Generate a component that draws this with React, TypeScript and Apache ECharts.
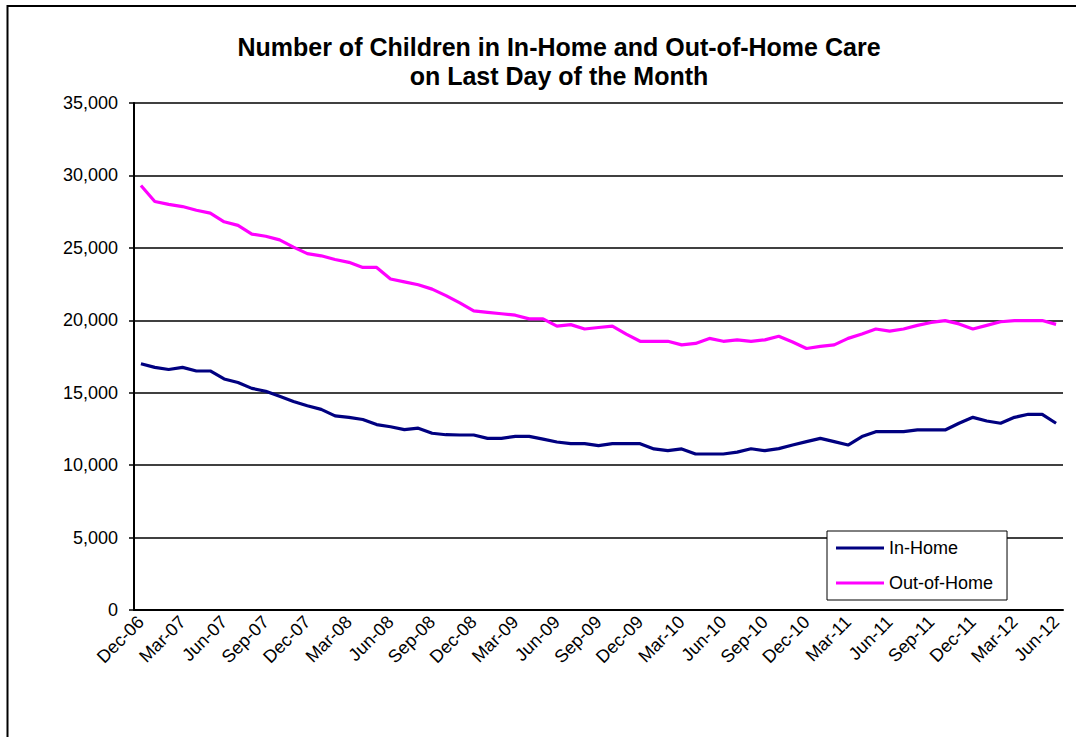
import React, { useEffect, useRef } from "react";
import * as echarts from "echarts";

const FONT = "'Liberation Sans', Arial, Helvetica, sans-serif";

const months: string[] = [
  "Dec-06",
  "Jan-07", "Feb-07", "Mar-07", "Apr-07", "May-07", "Jun-07", "Jul-07", "Aug-07", "Sep-07", "Oct-07", "Nov-07", "Dec-07",
  "Jan-08", "Feb-08", "Mar-08", "Apr-08", "May-08", "Jun-08", "Jul-08", "Aug-08", "Sep-08", "Oct-08", "Nov-08", "Dec-08",
  "Jan-09", "Feb-09", "Mar-09", "Apr-09", "May-09", "Jun-09", "Jul-09", "Aug-09", "Sep-09", "Oct-09", "Nov-09", "Dec-09",
  "Jan-10", "Feb-10", "Mar-10", "Apr-10", "May-10", "Jun-10", "Jul-10", "Aug-10", "Sep-10", "Oct-10", "Nov-10", "Dec-10",
  "Jan-11", "Feb-11", "Mar-11", "Apr-11", "May-11", "Jun-11", "Jul-11", "Aug-11", "Sep-11", "Oct-11", "Nov-11", "Dec-11",
  "Jan-12", "Feb-12", "Mar-12", "Apr-12", "May-12", "Jun-12",
];

const inHome: number[] = [
  17000,
  16750, 16600, 16750, 16500, 16500, 15950, 15700, 15300, 15100, 14750, 14400, 14100,
  13850, 13400, 13300, 13150, 12800, 12650, 12450, 12550, 12200, 12100, 12080, 12080,
  11850, 11850, 11990, 11990, 11800, 11600, 11480, 11480, 11350, 11480, 11480, 11480,
  11120, 11000, 11120, 10770, 10770, 10770, 10900, 11130, 11000, 11140, 11390, 11620,
  11850, 11620, 11390, 11970, 12310, 12310, 12310, 12430, 12430, 12430, 12890, 13300,
  13050, 12890, 13300, 13510, 13510, 12890,
];

const outOfHome: number[] = [
  29300,
  28200, 28000, 27850, 27600, 27400, 26800, 26550, 25950, 25800, 25550, 25050, 24600,
  24450, 24200, 24000, 23650, 23650, 22850, 22650, 22450, 22150, 21700, 21200, 20650,
  20550, 20450, 20350, 20100, 20100, 19600, 19700, 19400, 19500, 19600, 19050, 18550,
  18550, 18550, 18300, 18400, 18750, 18550, 18650, 18550, 18650, 18900, 18500, 18050,
  18200, 18300, 18750, 19050, 19400, 19250, 19400, 19650, 19850, 19980, 19750, 19400,
  19650, 19900, 19980, 19980, 19980, 19720,
];

const yMin = 0;
const yMax = 35000;
const yStep = 5000;

const titleText = "Number of Children in In-Home and Out-of-Home Care\non Last Day of the Month";

export default function App() {
  const ref = useRef<HTMLDivElement>(null);

  useEffect(() => {
    if (!ref.current) return;
    const chart = echarts.init(ref.current, null, { renderer: "svg" });
    chart.setOption({
      animation: false,
      backgroundColor: "#ffffff",
      textStyle: { fontFamily: FONT },
      title: {
        text: titleText,
        left: 559,
        top: 32,
        padding: 0,
        textAlign: "center",
        textStyle: {
          fontFamily: FONT,
          fontSize: 25,
          fontWeight: "bold",
          color: "#000",
          lineHeight: 29,
        },
      },
      graphic: [
        {
          type: "rect",
          silent: true,
          shape: { x: 7.5, y: 6, width: 1200, height: 900 },
          style: { fill: "none", stroke: "#000", lineWidth: 2 },
          z: 100,
        },
      ],
      legend: {
        orient: "vertical",
        left: 827,
        top: 531,
        padding: [7, 14, 7, 9],
        icon: "rect",
        itemWidth: 48,
        itemHeight: 3,
        itemGap: 15,
        borderColor: "#000",
        borderWidth: 1,
        backgroundColor: "#fff",
        borderRadius: 0,
        textStyle: { fontFamily: FONT, fontSize: 18, color: "#000", lineHeight: 20 },
        data: ["In-Home", "Out-of-Home"],
      },
      grid: { left: 134, right: 13, top: 103, bottom: 127 },
      xAxis: {
        type: "category",
        data: months,
        boundaryGap: true,
        axisLine: { lineStyle: { color: "#000", width: 2 } },
        axisTick: { interval: 2, length: 5, lineStyle: { color: "#000", width: 1.5 } },
        axisLabel: {
          interval: 2,
          rotate: 45,
          margin: 9,
          fontFamily: FONT,
          fontSize: 18,
          color: "#000",
        },
        splitLine: { show: false },
      },
      yAxis: {
        type: "value",
        min: yMin,
        max: yMax,
        interval: yStep,
        axisLine: { show: true, lineStyle: { color: "#000", width: 2 } },
        axisTick: { show: true, length: 5, lineStyle: { color: "#000", width: 1.5 } },
        axisLabel: {
          margin: 16,
          fontFamily: FONT,
          fontSize: 18,
          color: "#000",
          formatter: (v: number) => v.toLocaleString("en-US"),
        },
        splitLine: { show: true, lineStyle: { color: "#000", width: 1.5 } },
      },
      series: [
        {
          name: "In-Home",
          type: "line",
          data: inHome,
          symbol: "none",
          lineStyle: { color: "#000080", width: 3.2 },
          itemStyle: { color: "#000080" },
          z: 3,
        },
        {
          name: "Out-of-Home",
          type: "line",
          data: outOfHome,
          symbol: "none",
          lineStyle: { color: "#FF00FF", width: 3.2 },
          itemStyle: { color: "#FF00FF" },
          z: 3,
        },
      ],
    });
    return () => chart.dispose();
  }, []);

  return (
    <div
      ref={ref}
      style={{ position: "absolute", left: 0, top: 0, width: 1076, height: 737, background: "#fff" }}
    />
  );
}
